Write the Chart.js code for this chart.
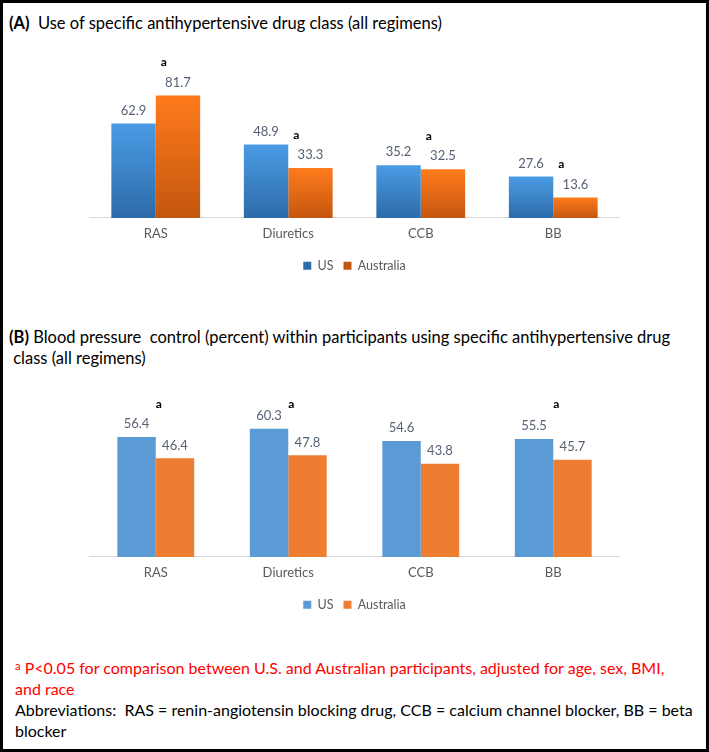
<!DOCTYPE html>
<html><head><meta charset="utf-8">
<script src="https://cdn.jsdelivr.net/npm/chart.js@4.4.0/dist/chart.umd.min.js"></script>
<style>
html,body{margin:0;padding:0;background:#fff;}
#frame{position:relative;width:709px;height:752px;box-sizing:border-box;border:3px solid #000;overflow:hidden;font-family:Lato,'Open Sans',sans-serif;background:#fff;}
.t{position:absolute;left:6px;white-space:nowrap;color:#000;font-size:16.5px;line-height:21px;}
.fn{left:12px;font-size:16px;}
canvas{position:absolute;left:-3px;}
sup{font-size:0.7em;vertical-align:top;position:relative;top:-2px;}
</style></head>
<body>
<div id="frame">
  <div class="t" style="top:10px;"><b>(A)</b>&nbsp; Use of specific antihypertensive drug class (all regimens)</div>
  <canvas id="cA" width="709" height="242" style="top:37px;"></canvas>
  <div class="t" style="top:324px;"><b>(B)</b> Blood pressure&nbsp; control (percent) within participants using specific antihypertensive drug<br>&nbsp;class (all regimens)</div>
  <canvas id="cB" width="709" height="242" style="top:376px;"></canvas>
  <div class="t fn" style="top:654px;"><span style="color:#ff0000;"><sup>a</sup> P&lt;0.05 for comparison between U.S. and Australian participants, adjusted for age, sex, BMI,<br>and race</span><br>Abbreviations:&nbsp; RAS = renin-angiotensin blocking drug, CCB = calcium channel blocker, BB = beta<br>blocker</div>
</div>
<script>
const categories = ['RAS', 'Diuretics', 'CCB', 'BB'];
const seriesNames = ['US', 'Australia'];
// (A) Use of specific antihypertensive drug class (%)
const useUS = [62.9, 48.9, 35.2, 27.6];
const useAU = [81.7, 33.3, 32.5, 13.6];
const sigUse = [true, true, true, true];
// (B) Blood pressure control (%)
const ctrlUS = [56.4, 60.3, 54.6, 55.5];
const ctrlAU = [46.4, 47.8, 43.8, 45.7];
const sigCtrl = [true, true, false, true];

function grad(top, bottom, mid) {
  return (c) => {
    const chart = c.chart;
    if (!chart.chartArea || typeof c.raw !== 'number') return mid;
    const ys = chart.scales.y;
    const y1 = ys.getPixelForValue(c.raw), y0 = ys.getPixelForValue(0);
    if (!isFinite(y1) || !isFinite(y0) || y1 === y0) return mid;
    const g = chart.ctx.createLinearGradient(0, y1, 0, y0);
    g.addColorStop(0, top);
    g.addColorStop(1, bottom);
    return g;
  };
}

const valuePlugin = {
  id: 'vals',
  afterDatasetsDraw(chart, args, opts) {
    const ctx = chart.ctx;
    ctx.save();
    ctx.font = '13px Lato';
    ctx.fillStyle = '#566174';
    ctx.textAlign = 'center';
    ctx.textBaseline = 'middle';
    chart.data.datasets.forEach((ds, di) => {
      chart.getDatasetMeta(di).data.forEach((bar, i) => {
        ctx.fillText(ds.data[i].toFixed(1), bar.x, bar.y - 13);
      });
    });
    ctx.font = 'bold 12px Lato';
    ctx.fillStyle = '#000';
    const xs = chart.scales.x;
    (opts.sig || []).forEach((s, i) => {
      if (!s) return;
      const cx = xs.getPixelForValue(i) + opts.dx;
      let y;
      if (opts.mode === 'label') {
        const bar = chart.getDatasetMeta(opts.ds).data[i];
        y = bar.y - 13 - opts.dy;
      } else {
        y = chart.chartArea.top + opts.dy;
      }
      ctx.fillText('a', cx, y);
    });
    ctx.restore();
  }
};

function makeChart(id, us, au, colUS, colAU, catPct, yMax, sigOpts) {
  return new Chart(document.getElementById(id), {
    type: 'bar',
    data: {
      labels: categories,
      datasets: [
        { label: seriesNames[0], data: us, backgroundColor: colUS, borderWidth: 0 },
        { label: seriesNames[1], data: au, backgroundColor: colAU, borderWidth: 0 }
      ]
    },
    options: {
      responsive: false,
      animation: false,
      events: [],
      layout: { padding: { left: 89.5, right: 89.5, top: 19, bottom: 0 } },
      datasets: { bar: { categoryPercentage: catPct, barPercentage: 1.0 } },
      scales: {
        x: {
          grid: { display: false, drawTicks: false },
          border: { display: true, color: '#d9d9d9', width: 1 },
          ticks: { color: '#595959', font: { family: 'Lato', size: 13 }, padding: 8 }
        },
        y: { display: false, min: 0, max: yMax }
      },
      plugins: {
        legend: {
          position: 'bottom',
          labels: { boxWidth: 8, boxHeight: 8, padding: 10, color: '#595959', font: { family: 'Lato', size: 12.5 } }
        },
        tooltip: { enabled: false },
        vals: sigOpts
      }
    },
    plugins: [valuePlugin]
  });
}

makeChart('cA', useUS, useAU,
  grad('#4a9be4', '#2d6ba9', '#3d85c6'),
  grad('#ff7b1c', '#c4570f', '#e46c0a'),
  0.67, 106,
  { sig: sigUse, mode: 'label', ds: 1, dx: 8, dy: 20 });

makeChart('cB', ctrlUS, ctrlAU,
  '#5b9bd5', '#ed7d31',
  0.58, 74.8,
  { sig: sigCtrl, mode: 'top', dx: 3, dy: 6 });
</script>
</body></html>
